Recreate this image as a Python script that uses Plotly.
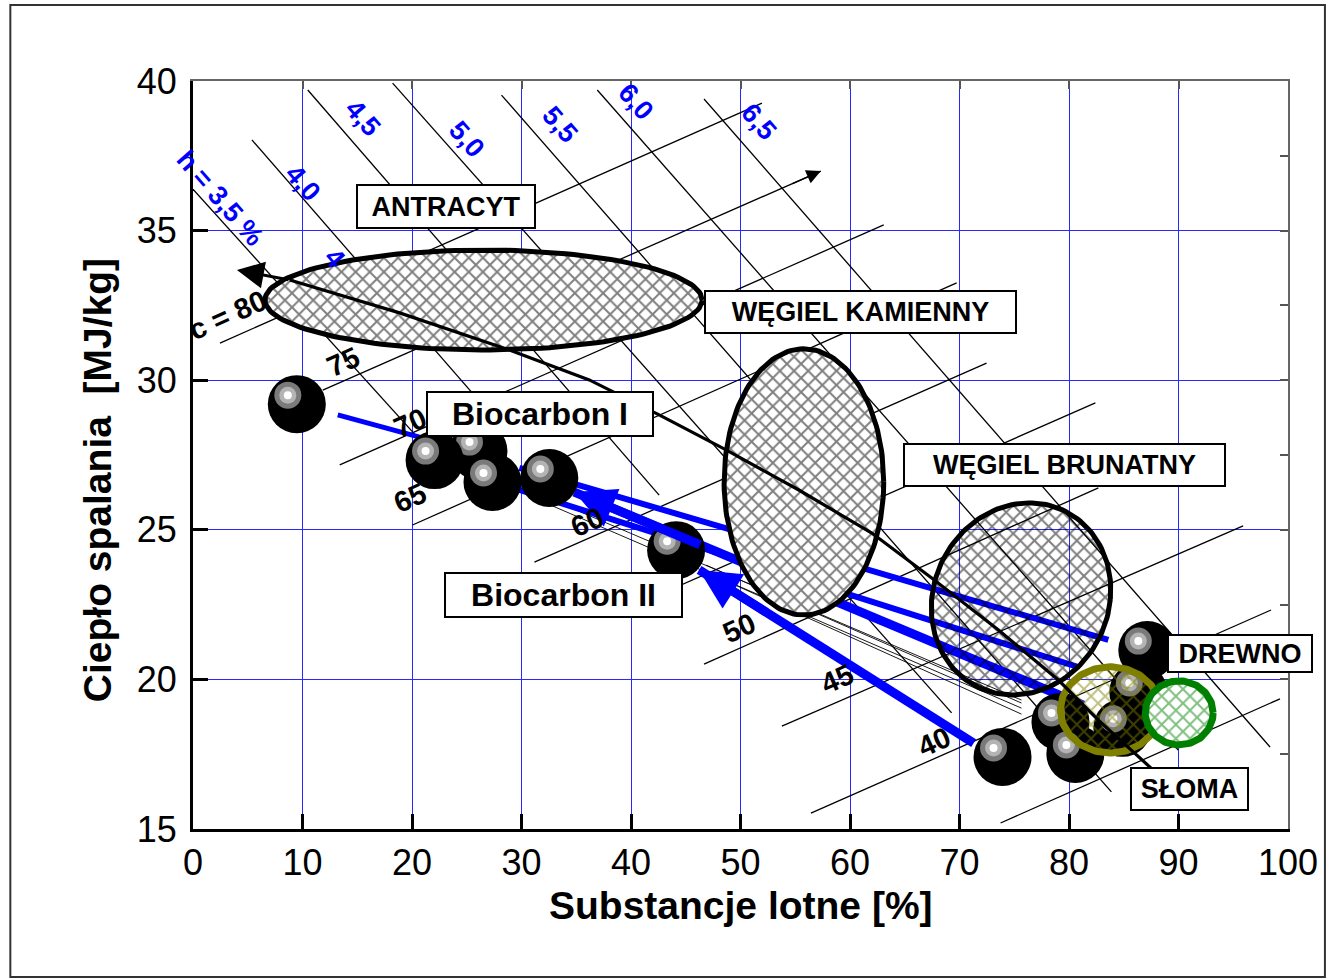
import numpy as np
import plotly.graph_objects as go

# ---------------- data ----------------
X_RANGE = [0, 100]
Y_RANGE = [15, 40]
X_TICKS = [0, 10, 20, 30, 40, 50, 60, 70, 80, 90, 100]
Y_TICKS = [15, 20, 25, 30, 35, 40]

# hydrogen (h) lines of the nomogram
H_LABELS = ["h = 3,5 %", "4,0", "4,5", "5,0", "5,5", "6,0", "6,5"]
H_X0 = [-1.19, 5.38, 10.48, 18.23, 28.17, 36.92, 46.67]
H_Y0 = [36.86, 38.03, 39.70, 39.93, 39.53, 39.70, 39.40]
H_X1 = [21.15, 28.44, 42.57, 69.28, 83.87, 89.97, 98.36]
H_Y1 = [27.83, 28.34, 26.16, 18.88, 16.24, 17.64, 17.74]
H_LX = [2.46, 10.03, 15.50, 24.98, 33.55, 40.47, 51.69]
H_LY = [36.09, 36.59, 38.76, 38.06, 38.53, 39.30, 38.63]

# carbon (c) lines of the nomogram
C_VALUES = [80, 75, 70, 65, 60, 55, 50, 45, 40, 35]
C_X0 = [2.46, 11.85, 13.40, 20.05, 31.18, 39.38, 46.67, 53.78, 56.43, 73.75]
C_Y0 = [31.24, 29.67, 27.17, 25.16, 23.92, 22.32, 20.51, 18.44, 15.53, 15.20]
C_X1 = [51.96, 57.34, 63.08, 69.74, 72.47, 82.41, 82.68, 95.90, 98.45, 99.27]
C_Y1 = [39.26, 36.99, 35.19, 33.25, 30.57, 29.24, 26.40, 25.13, 22.32, 19.35]
C_LABELS = ["c = 80", "75", "70", "65", "60", "50", "45", "40"]
C_LX = [3.19, 13.67, 19.78, 19.78, 36.01, 49.86, 58.80, 67.64]
C_LY = [32.18, 30.61, 28.57, 26.06, 25.26, 21.72, 20.01, 17.91]

# fuel regions (ellipses)
REG_NAMES = ["ANTRACYT", "WĘGIEL KAMIENNY", "WĘGIEL BRUNATNY", "SŁOMA", "DREWNO"]
REG_CX = [26.53, 55.79, 75.62, 83.77, 90.06]
REG_CY = [32.68, 26.60, 22.69, 18.98, 18.88]
REG_RX = [19.96, 7.29, 8.16, 4.56, 3.10]
REG_RY = [1.67, 4.45, 3.21, 1.44, 1.07]
REG_SHEAR = [0.0, 0.0, 0.77, 0.0, 0.0]

# biocarbon samples (spheres)
BALL_X = [9.48, 26.07, 22.06, 27.35, 32.54, 44.12, 87.15, 73.93, 86.33, 79.22, 84.87, 80.58]
BALL_Y = [29.20, 27.63, 27.33, 26.60, 26.73, 24.32, 20.98, 17.41, 19.58, 18.58, 18.38, 17.51]

# trend curve (black, with arrow)
TREND_X = [4.01, 8.84, 18.87, 28.90, 36.19, 42.57, 48.68, 55.33, 61.99, 67.46, 73.56, 79.03, 82.68, 87.69]
TREND_Y = [33.68, 33.35, 32.25, 31.01, 30.01, 28.84, 27.67, 26.33, 24.89, 23.39, 21.65, 19.98, 18.64, 16.97]

# blue conversion paths
BLUE_X0 = [13.22, 83.59, 80.86, 81.31, 71.29]
BLUE_Y0 = [28.84, 21.32, 20.41, 19.14, 17.87]
BLUE_X1 = [20.69, 29.81, 29.81, 34.82, 46.22]
BLUE_Y1 = [28.10, 27.07, 26.33, 26.26, 23.66]
BLUE_HEAD = [False, False, False, True, True]

# thin black connection lines
THIN_X0 = [32.82, 32.82, 46.86, 46.86]
THIN_Y0 = [26.00, 25.80, 23.82, 23.59]
THIN_X1 = [75.66, 75.66, 75.66, 75.66]
THIN_Y1 = [19.31, 19.04, 19.21, 18.84]

# labelled boxes
BOX_TEXT = ["ANTRACYT", "WĘGIEL KAMIENNY", "WĘGIEL BRUNATNY", "Biocarbon I", "Biocarbon II", "DREWNO", "SŁOMA"]
BOX_X = [23.15, 60.94, 79.63, 31.72, 33.87, 95.62, 91.02]
BOX_Y = [35.81, 32.28, 27.17, 28.87, 22.82, 20.87, 16.34]

X_TITLE = "Substancje lotne [%]"
Y_TITLE = "Ciepło spalania\u00a0 [MJ/kg]"

# ---------------- layout geometry / style ----------------
W, H = 1330, 980
ML, MR, MT, MB = 193, 40, 81, 151
PW, PH = W - ML - MR, H - MT - MB
PXX = PW / (X_RANGE[1] - X_RANGE[0])
PXY = PH / (Y_RANGE[1] - Y_RANGE[0])
FONT = "Arial, Liberation Sans, sans-serif"
GRID = "rgb(40,40,255)"


def px_to_paper_x(px):
    return (px - ML) / PW


def px_to_paper_y(py):
    return (MT + PH - py) / PH


BOX_W = [180, 313, 323, 228, 239, 146, 119]
BOX_H = [45, 44, 44, 46, 46, 39, 44]
BOX_FS = [27, 27, 27, 32, 32, 27, 27]

REG_LINE = ["black", "black", "black", "#808000", "#008000"]
REG_LW = [5, 5, 5, 7, 7]
REG_BG = ["white", "white", "rgba(0,0,0,0)", "rgba(0,0,0,0)", "white"]
REG_FG = ["black", "black", "black", "#808000", "#008000"]
HATCH_SIZE = 10
HATCH_SOLID = 0.36


def segs(x0, y0, x1, y1):
    xs, ys = [], []
    for a, b, c, d in zip(x0, y0, x1, y1):
        xs += [a, c, None]
        ys += [b, d, None]
    return xs, ys


def ellipse(cx, cy, rx, ry, sh, n=160):
    t = np.linspace(0, 2 * np.pi, n)
    return cx + rx * np.cos(t) + sh * np.sin(t), cy + ry * np.sin(t)


fig = go.Figure()

# nomogram lines
xs, ys = segs(H_X0, H_Y0, H_X1, H_Y1)
fig.add_trace(go.Scatter(x=xs, y=ys, mode="lines", line=dict(color="black", width=1.3), hoverinfo="skip"))
xs, ys = segs(C_X0, C_Y0, C_X1, C_Y1)
fig.add_trace(go.Scatter(x=xs, y=ys, mode="lines", line=dict(color="black", width=1.3), hoverinfo="skip"))
xs, ys = segs(THIN_X0, THIN_Y0, THIN_X1, THIN_Y1)
fig.add_trace(go.Scatter(x=xs, y=ys, mode="lines", line=dict(color="black", width=0.9), hoverinfo="skip"))

# blue paths
BLUE_W = [5, 6, 6, 9, 9]
for i in range(len(BLUE_X0)):
    fig.add_trace(go.Scatter(x=[BLUE_X0[i], BLUE_X1[i]], y=[BLUE_Y0[i], BLUE_Y1[i]], mode="lines",
                             line=dict(color="#0000ff", width=BLUE_W[i]), hoverinfo="skip"))

# coal regions (first three)
for i in range(3):
    ex, ey = ellipse(REG_CX[i], REG_CY[i], REG_RX[i], REG_RY[i], REG_SHEAR[i])
    fig.add_trace(go.Scatter(x=ex, y=ey, mode="lines", fill="toself",
                             fillcolor=REG_BG[i],
                             fillpattern=dict(shape="x", fgcolor=REG_FG[i], bgcolor=REG_BG[i],
                                              size=HATCH_SIZE, solidity=HATCH_SOLID),
                             line=dict(color=REG_LINE[i], width=REG_LW[i]), hoverinfo="skip"))

# spheres: ball + highlight layers, in drawing order
HL_SIZE = [27, 17, 8]
HL_COL = ["#7a7a7a", "#b4b4b4", "#ffffff"]
bx, by, bs, bc = [], [], [], []
for x, y in zip(BALL_X, BALL_Y):
    bx.append(x); by.append(y); bs.append(58); bc.append("black")
    for s, c in zip(HL_SIZE, HL_COL):
        bx.append(x - 9 / PXX); by.append(y + 9 / PXY); bs.append(s); bc.append(c)
fig.add_trace(go.Scatter(x=bx, y=by, mode="markers",
                         marker=dict(size=bs, color=bc, opacity=1, line=dict(width=0)), hoverinfo="skip"))

# biomass regions
for i in range(3, 5):
    ex, ey = ellipse(REG_CX[i], REG_CY[i], REG_RX[i], REG_RY[i], REG_SHEAR[i])
    fig.add_trace(go.Scatter(x=ex, y=ey, mode="lines", fill="toself",
                             fillcolor=REG_BG[i],
                             fillpattern=dict(shape="x", fgcolor=REG_FG[i], bgcolor=REG_BG[i],
                                              size=HATCH_SIZE, solidity=HATCH_SOLID),
                             line=dict(color=REG_LINE[i], width=REG_LW[i]), hoverinfo="skip"))

# trend curve
fig.add_trace(go.Scatter(x=TREND_X[1:], y=TREND_Y[1:], mode="lines", line=dict(color="black", width=3.2),
                         hoverinfo="skip"))

# dummy trace for the mirrored axes
fig.add_trace(go.Scatter(x=[None], y=[None], xaxis="x2", yaxis="y2", showlegend=False, hoverinfo="skip"))

ann = []
# arrowheads
ann.append(dict(x=TREND_X[0], y=TREND_Y[0], ax=TREND_X[1], ay=TREND_Y[1], xref="x", yref="y", axref="x", ayref="y",
                text="", showarrow=True, arrowhead=2, arrowsize=1.8, arrowwidth=3, arrowcolor="black"))
k = 1  # c = 75 line ends with an arrow
ann.append(dict(x=C_X1[k], y=C_Y1[k], ax=C_X1[k] - 0.06 * (C_X1[k] - C_X0[k]), ay=C_Y1[k] - 0.06 * (C_Y1[k] - C_Y0[k]),
                xref="x", yref="y", axref="x", ayref="y", text="", showarrow=True, arrowhead=2,
                arrowsize=2.2, arrowwidth=1.3, arrowcolor="black"))
for i in range(len(BLUE_X0)):
    if BLUE_HEAD[i]:
        f = 0.25
        ann.append(dict(x=BLUE_X1[i], y=BLUE_Y1[i],
                        ax=BLUE_X1[i] + f * (BLUE_X0[i] - BLUE_X1[i]), ay=BLUE_Y1[i] + f * (BLUE_Y0[i] - BLUE_Y1[i]),
                        xref="x", yref="y", axref="x", ayref="y", text="", showarrow=True, arrowhead=2,
                        arrowsize=0.9, arrowwidth=BLUE_W[i], arrowcolor="#0000ff"))

# h labels
for t, x, y in zip(H_LABELS, H_LX, H_LY):
    ann.append(dict(x=x, y=y, xref="x", yref="y", text="<b>%s</b>" % t, showarrow=False, textangle=49,
                    font=dict(family=FONT, size=27, color="#0000ff")))
ann.append(dict(x=12.94, y=34.08, xref="x", yref="y", text="<b>4</b>", showarrow=False, textangle=49,
                font=dict(family=FONT, size=27, color="#0000ff")))
# c labels
for t, x, y in zip(C_LABELS, C_LX, C_LY):
    ann.append(dict(x=x, y=y, xref="x", yref="y", text="<b>%s</b>" % t, showarrow=False, textangle=-24,
                    font=dict(family=FONT, size=29, color="black")))
# boxes
for t, x, y, w, h, fs in zip(BOX_TEXT, BOX_X, BOX_Y, BOX_W, BOX_H, BOX_FS):
    ann.append(dict(x=x, y=y, xref="x", yref="y", text="<b>%s</b>" % t, showarrow=False,
                    width=w - 4, height=h - 4, bgcolor="white", bordercolor="black", borderwidth=2, borderpad=0,
                    font=dict(family=FONT, size=fs, color="black")))
# axis titles
ann.append(dict(x=0.5, y=px_to_paper_y(905), xref="paper", yref="paper", text="<b>%s</b>" % X_TITLE,
                xanchor="center", yanchor="middle",
                showarrow=False, font=dict(family=FONT, size=39, color="black")))
ann.append(dict(x=px_to_paper_x(97), y=px_to_paper_y(480), xref="paper", yref="paper", text="<b>%s</b>" % Y_TITLE,
                xanchor="center", yanchor="middle",
                showarrow=False, textangle=-90, font=dict(family=FONT, size=39, color="black")))

fig.update_layout(
    width=W, height=H, margin=dict(l=ML, r=MR, t=MT, b=MB),
    paper_bgcolor="white", plot_bgcolor="white", showlegend=False,
    annotations=ann,
    shapes=[dict(type="rect", xref="paper", yref="paper",
                 x0=px_to_paper_x(10), x1=px_to_paper_x(1327), y0=px_to_paper_y(977), y1=px_to_paper_y(5),
                 line=dict(color="#333333", width=2), layer="below")],
    xaxis=dict(range=X_RANGE, tickvals=X_TICKS, ticks="inside", ticklen=15, tickwidth=3, tickcolor="black",
               showline=True, linewidth=3, linecolor="black", showgrid=True, gridcolor=GRID, gridwidth=1,
               zeroline=False, tickfont=dict(family=FONT, size=36, color="black")),
    yaxis=dict(range=Y_RANGE, tickvals=Y_TICKS, ticks="inside", ticklen=15, tickwidth=3, tickcolor="black",
               showline=True, linewidth=3, linecolor="black", showgrid=True, gridcolor=GRID, gridwidth=1,
               zeroline=False, ticklabelstandoff=6, tickfont=dict(family=FONT, size=36, color="black")),
    xaxis2=dict(range=X_RANGE, overlaying="x", side="top", anchor="y", dtick=10, ticks="inside", ticklen=8,
                tickwidth=1.5, tickcolor="#555555", showline=True, linewidth=1.5, linecolor="#666666",
                showgrid=False, zeroline=False, showticklabels=False),
    yaxis2=dict(range=Y_RANGE, overlaying="y", side="right", anchor="x", dtick=2.5, ticks="inside", ticklen=8,
                tickwidth=1.5, tickcolor="#555555", showline=True, linewidth=1.5, linecolor="#666666",
                showgrid=False, zeroline=False, showticklabels=False),
)

fig.write_html("out.html", config={"displayModeBar": False},
               post_script="document.body.style.margin='0px';document.body.style.overflow='hidden';")
